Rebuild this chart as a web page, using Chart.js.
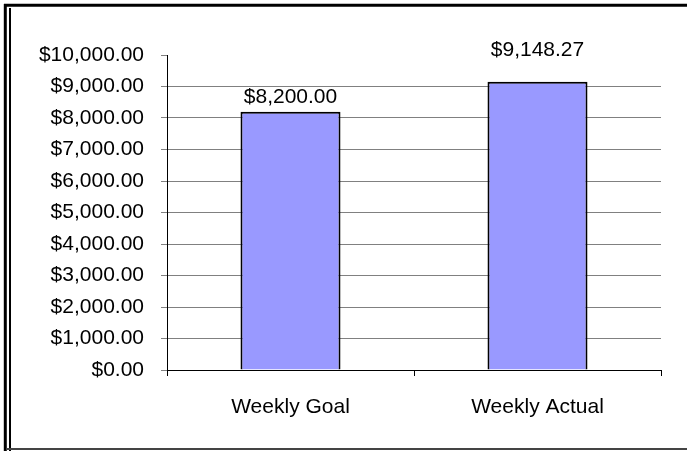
<!DOCTYPE html>
<html>
<head>
<meta charset="utf-8">
<script src="https://cdn.jsdelivr.net/npm/chart.js@4"></script>
<style>
  body { margin: 0; background: #fff; }
  #wrap { width: 687px; height: 451px; position: relative; }
</style>
</head>
<body>
<div id="wrap"><canvas id="miGrafico"></canvas></div>
<script>
const categorias = ['Weekly Goal', 'Weekly Actual'];
const valores = [8200.00, 9148.27];
const ticksY = [0, 1000, 2000, 3000, 4000, 5000, 6000, 7000, 8000, 9000, 10000];

const fuente = { family: 'Liberation Sans, Arial, sans-serif', size: 21 };

function dinero(v) {
    return '$' + Number(v).toLocaleString('en-US', { minimumFractionDigits: 2, maximumFractionDigits: 2 });
}

// marco del grafico (estilo Excel)
const marco = {
    id: 'marco',
    afterDraw(chart) {
        const c = chart.ctx;
        c.save();
        c.strokeStyle = '#000';
        c.lineWidth = 3;
        c.beginPath();
        c.moveTo(4, 5.2); c.lineTo(687, 5.2);
        c.moveTo(5.3, 4); c.lineTo(5.3, 451);
        c.stroke();
        c.lineWidth = 2;
        c.beginPath();
        c.moveTo(10, 8); c.lineTo(10, 451);
        c.stroke();
        c.strokeStyle = '#444';
        c.beginPath();
        c.moveTo(6, 449); c.lineTo(687, 449);
        c.stroke();
        c.restore();
    }
};

// etiquetas de valor sobre las barras
const etiquetas = {
    id: 'etiquetas',
    afterDatasetsDraw(chart, args, opts) {
        const c = chart.ctx;
        const meta = chart.getDatasetMeta(0);
        c.save();
        c.font = fuente.size + 'px ' + fuente.family;
        c.fillStyle = '#000';
        c.textAlign = 'center';
        c.textBaseline = 'alphabetic';
        meta.data.forEach((bar, i) => {
            c.fillText(dinero(valores[i]), bar.x, bar.y - opts.separacion[i]);
        });
        c.restore();
    }
};

const ctx = document.getElementById('miGrafico').getContext('2d');

const miGrafico = new Chart(ctx, {
    type: 'bar',
    data: {
        labels: categorias,
        datasets: [{
            data: valores,
            backgroundColor: '#9999FF',
            borderColor: '#000',
            borderWidth: 2,
            barPercentage: 0.405,
            categoryPercentage: 1
        }]
    },
    options: {
        responsive: true,
        maintainAspectRatio: false,
        animation: false,
        layout: { padding: { left: 20, right: 26, top: 55, bottom: 20 } },
        plugins: {
            legend: { display: false },
            tooltip: { enabled: false },
            etiquetas: { separacion: [9, 26] }
        },
        scales: {
            x: {
                offset: true,
                grid: {
                    offset: true,
                    drawOnChartArea: false,
                    drawTicks: true,
                    tickLength: 6,
                    tickColor: '#000'
                },
                border: { color: '#000', width: 1 },
                ticks: { color: '#000', font: fuente, padding: 19, maxRotation: 0 },
                afterFit: s => { s.height = 451 - 20 - 370; }
            },
            y: {
                min: 0,
                max: 10000,
                afterBuildTicks: s => { s.ticks = ticksY.map(v => ({ value: v })); },
                grid: {
                    color: c => (c.tick && (c.tick.value === 10000 || c.tick.value === 0)) ? 'rgba(0,0,0,0)' : '#808080',
                    tickColor: '#808080',
                    tickLength: 6
                },
                border: { color: '#000', width: 1 },
                ticks: { color: '#000', font: fuente, padding: 17, callback: v => dinero(v) },
                afterFit: s => { s.width = 167 - 20; }
            }
        }
    },
    plugins: [marco, etiquetas]
});
</script>
</body>
</html>
